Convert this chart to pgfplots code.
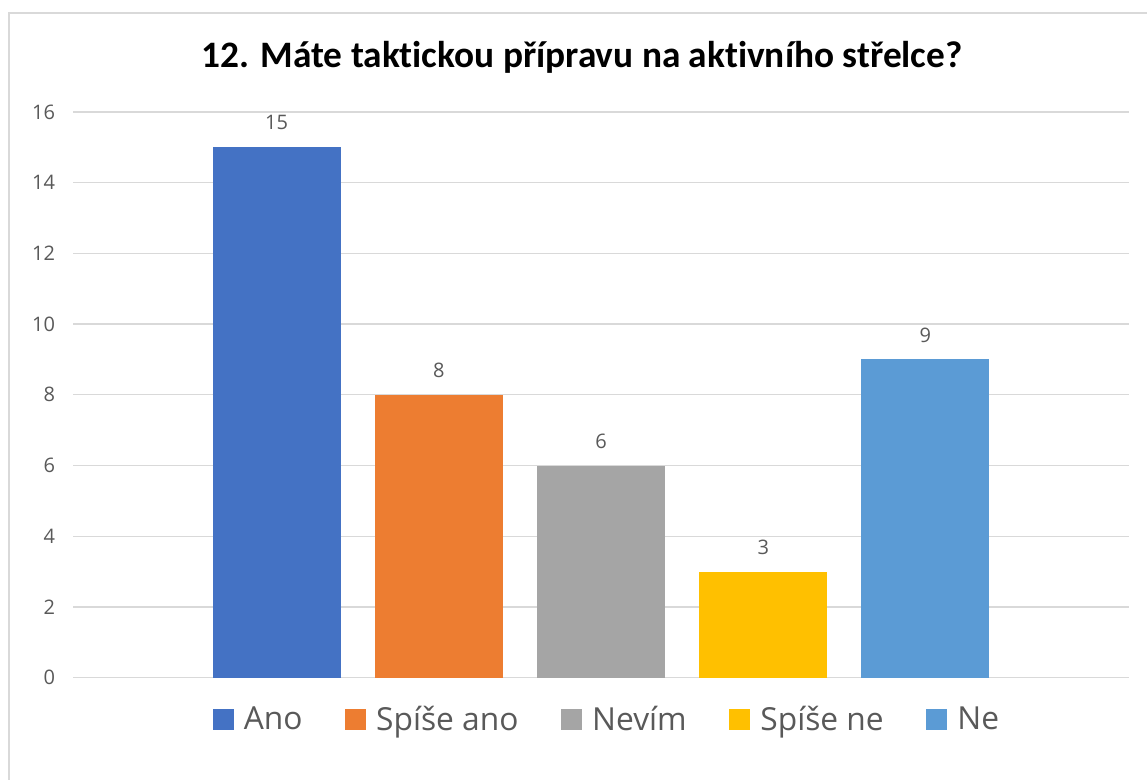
\documentclass[border=0pt]{standalone}
\usepackage{pgfplots}
\pgfplotsset{compat=1.18}
\usepackage{fontspec}
\setmainfont{Open Sans}
\newfontfamily\titlefont[Ligatures={NoCommon,NoContextual,NoRare}]{Carlito}
\definecolor{cAno}{HTML}{4472C4}
\definecolor{cSpa}{HTML}{ED7D31}
\definecolor{cNev}{HTML}{A5A5A5}
\definecolor{cSpn}{HTML}{FFC000}
\definecolor{cNe}{HTML}{5B9BD5}
\definecolor{gridc}{HTML}{D9D9D9}
\definecolor{txt}{HTML}{595959}
\begin{document}
\begin{tikzpicture}
\useasboundingbox (0,0) rectangle (860.25pt,584.25pt);
\fill[white] (0,0) rectangle (860.25pt,584.25pt);
\draw[gridc, line width=1pt] (6.75pt,-20pt) rectangle (900pt,574.5pt);
\node[text=black, font=\titlefont\fontsize{28}{32}\selectfont\bfseries] at (436.5pt,541.1pt) {12. Máte takt\kern0pt ickou přípravu na akt\kern0pt ivního střelce?};
\begin{axis}[
  at={(54.75pt,75.98pt)}, anchor=south west,
  scale only axis, width=792pt, height=424.3pt,
  xmin=-1.255, xmax=5.255, ymin=0, ymax=16,
  ytick={0,2,...,16}, xtick=\empty,
  ymajorgrids, grid style={gridc, line width=1pt},
  axis line style={draw=none},
  major tick length=0pt,
  /pgf/number format/assume math mode=true,
  yticklabel style={text=txt, font=\fontsize{15}{18}\selectfont, xshift=-10pt},
  ybar, bar width=96pt,
  nodes near coords,
  every node near coord/.append style={text=txt, font=\fontsize{15}{18}\selectfont, anchor=base, yshift=13pt, inner sep=0pt},
  legend columns=5,
  legend style={at={(rel axis cs:0.5047,-0.0739)}, anchor=center, draw=none, fill=none,
    font=\fontsize{23.8}{26}\selectfont, text=txt,
    nodes={inner sep=0pt},
    /tikz/every odd column/.append style={column sep=7.5pt},
    /tikz/every even column/.append style={column sep=32pt}},
  legend image code/.code={\fill[#1, draw=none] (0pt,-7.875pt) rectangle (15.75pt,7.875pt);},
]
\addplot[fill=cAno, draw=none, bar shift=0pt] coordinates {(0,15)};
\addlegendentry{Ano}
\addplot[fill=cSpa, draw=none, bar shift=0pt] coordinates {(1,8)};
\addlegendentry{Spíše ano}
\addplot[fill=cNev, draw=none, bar shift=0pt] coordinates {(2,6)};
\addlegendentry{Nevím}
\addplot[fill=cSpn, draw=none, bar shift=0pt] coordinates {(3,3)};
\addlegendentry{Spíše ne}
\addplot[fill=cNe, draw=none, bar shift=0pt] coordinates {(4,9)};
\addlegendentry{Ne}
\end{axis}
\end{tikzpicture}
\end{document}
